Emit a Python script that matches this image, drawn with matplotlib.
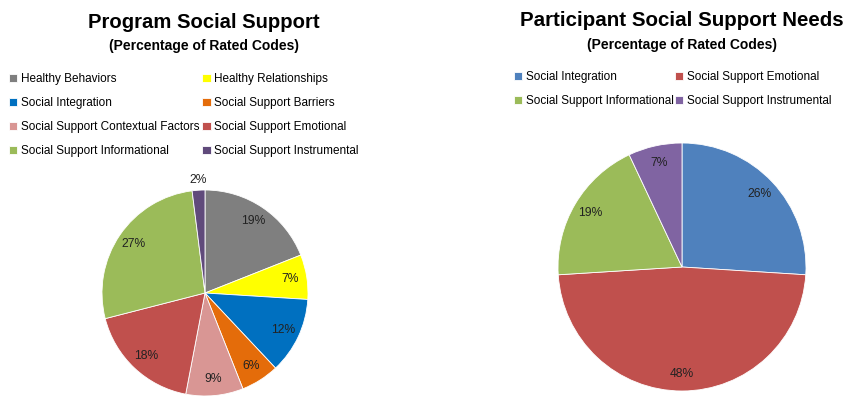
import numpy as np
import matplotlib.pyplot as plt

plt.rcParams['font.family'] = ['Liberation Sans', 'DejaVu Sans']

W, H = 849, 396

# left chart: program social support
program_labels = ['Healthy Behaviors', 'Healthy Relationships', 'Social Integration',
                  'Social Support Barriers', 'Social Support Contextual Factors',
                  'Social Support Emotional', 'Social Support Informational',
                  'Social Support Instrumental']
program_pct = [19, 7, 12, 6, 9, 18, 27, 2]
program_colors = ['#7F7F7F', '#FFFF00', '#0070C0', '#E46C0A', '#D99694',
                  '#C0504D', '#9BBB59', '#604A7B']

# right chart: participant social support needs
needs_labels = ['Social Integration', 'Social Support Emotional',
                'Social Support Informational', 'Social Support Instrumental']
needs_pct = [26, 48, 19, 7]
needs_colors = ['#4F81BD', '#C0504D', '#9BBB59', '#8064A2']


def draw_pie(ax, values, colors, center, radius, label_dist, outside=()):
    cx, cy = center[0], H - center[1]
    wedges, _ = ax.pie(values, colors=colors, startangle=90, counterclock=False,
                       center=(cx, cy), radius=radius, frame=True,
                       wedgeprops=dict(edgecolor='white', linewidth=0.6))
    for i, (w, v) in enumerate(zip(wedges, values)):
        ang = np.deg2rad((w.theta1 + w.theta2) / 2)
        d = 1.1 if i in outside else label_dist
        ax.text(cx + d * radius * np.cos(ang), cy + d * radius * np.sin(ang),
                '{}%'.format(v), ha='center', va='center', fontsize=8.7,
                color='#222222')
    return wedges


def row_major(items, ncol=2):
    # legend fills columns first, so reorder to read across rows
    return [items[i] for c in range(ncol) for i in range(c, len(items), ncol)]


fig = plt.figure(figsize=(W / 100, H / 100), dpi=100)
ax = fig.add_axes([0, 0, 1, 1])

w_left = draw_pie(ax, program_pct, program_colors, (205, 293), 103, 0.84,
                  outside=(7,))
w_right = draw_pie(ax, needs_pct, needs_colors, (682, 267), 124, 0.86)

ax.set_xlim(0, W)
ax.set_ylim(0, H)
ax.axis('off')

# titles
fig.text(204 / W, 1 - 23 / H, 'Program Social Support', ha='center', va='center',
         fontsize=14.6, fontweight='bold')
fig.text(204 / W, 1 - 46 / H, '(Percentage of Rated Codes)', ha='center',
         va='center', fontsize=10, fontweight='bold')
fig.text(682 / W, 1 - 20 / H, 'Participant Social Support Needs', ha='center',
         va='center', fontsize=14.8, fontweight='bold')
fig.text(682 / W, 1 - 45 / H, '(Percentage of Rated Codes)', ha='center',
         va='center', fontsize=10, fontweight='bold')

legend_kw = dict(loc='upper left', ncol=2, frameon=False, fontsize=8.5,
                 handlelength=0.7, handleheight=0.7, handletextpad=0.3,
                 labelspacing=1.02, borderaxespad=0,
                 borderpad=0, bbox_transform=fig.transFigure)
leg1 = ax.legend(row_major(w_left), row_major(program_labels),
                 bbox_to_anchor=(9 / W, 1 - 73 / H), columnspacing=0.25,
                 **legend_kw)
ax.add_artist(leg1)
ax.legend(row_major(w_right), row_major(needs_labels),
          bbox_to_anchor=(514 / W, 1 - 71 / H), columnspacing=0.1, **legend_kw)

fig.savefig('out.png', dpi=100)
